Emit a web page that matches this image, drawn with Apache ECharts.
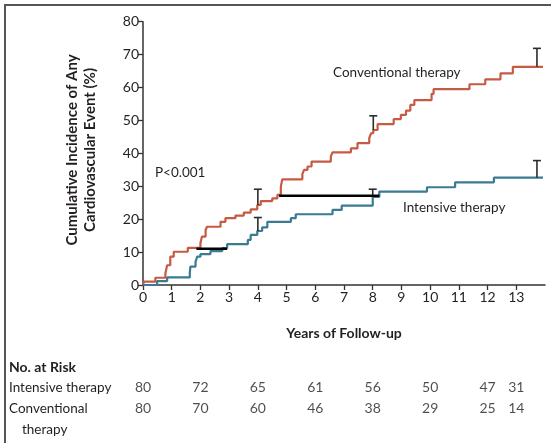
<!DOCTYPE html>
<html><head><meta charset="utf-8">
<script src="https://cdn.jsdelivr.net/npm/echarts@6/dist/echarts.min.js"></script>
<style>html,body{margin:0;padding:0;background:#fff}#c{width:551px;height:443px}</style>
</head><body><div id="c"></div>
<script>
const conventional = [[0,0],[0.03,1.0],[0.43,2.2],[0.78,3.5],[0.84,6],[0.95,8.6],[1.07,10.1],[1.56,11.3],[2.0,12.7],[2.05,14.7],[2.18,16.7],[2.23,17.7],[2.7,19.2],[2.87,20.3],[3.22,21.1],[3.51,22],[3.75,23],[3.98,24.3],[4.1,25.5],[4.5,26.3],[4.68,27.4],[4.8,29.9],[4.85,32.1],[5.55,33.7],[5.61,35],[5.73,36],[5.87,37.5],[6.54,39],[6.6,40.3],[7.24,41.5],[7.47,43.1],[7.88,44.6],[7.94,46.1],[8.02,47.1],[8.17,48.9],[8.73,50.4],[8.98,51.7],[9.16,53],[9.31,54.7],[9.45,56.2],[10.05,58.1],[10.12,59.5],[11.37,61],[11.92,62.5],[12.45,64.3],[12.88,66.3],[13.93,66.3]];
const intensive = [[0,0],[0.49,1.2],[0.84,2.3],[1.63,3.7],[1.65,5.6],[1.83,7.1],[1.89,8.6],[2.0,9.4],[2.35,10.3],[2.76,11.2],[2.93,12.4],[3.65,13.7],[3.75,15.2],[3.98,16.4],[4.15,17.5],[4.33,19.2],[5.15,20.3],[5.32,21.5],[6.6,22.8],[6.92,24.1],[8.0,26.8],[8.23,28.4],[9.89,29.7],[10.87,31.2],[12.22,32.6],[13.93,32.6]];
// error bars: [year, low, high]
const convErr = [[4.0,24.3,29.1],[8.02,47.1,51.4],[13.72,66.3,71.9]];
const intErr = [[4.0,16.4,20.5],[8.0,26.8,29.1],[13.72,32.6,37.8]];
// black reference segments
const segA = [[1.86,11.0],[2.93,11.0]];
const segB = [[4.74,27.1],[8.23,27.1]];
const xTicks = [0,1,2,3,4,5,6,7,8,9,10,11,12,13];
const riskYears = [0,2,4,6,8,10,12,13];
const riskIntensive = [80,72,65,61,56,50,47,31];
const riskConventional = [80,70,60,46,38,29,25,14];
const riskGroups = ['Intensive therapy','Conventional therapy'];

const FONT = 'Lato';
const TXT = '#231f20';
const chart = echarts.init(document.getElementById('c'), null, {renderer:'canvas'});

function errItem(params, api){
  const p0 = api.coord([api.value(0), api.value(1)]);
  const p1 = api.coord([api.value(0), api.value(2)]);
  const st = {stroke:'#2b2b2b', lineWidth:1.6};
  return {type:'group', children:[
    {type:'line', shape:{x1:p0[0],y1:p0[1],x2:p1[0],y2:p1[1]}, style:st},
    {type:'line', shape:{x1:p1[0]-4,y1:p1[1],x2:p1[0]+4,y2:p1[1]}, style:st}
  ]};
}

const riskData = [];
riskYears.forEach((y,i)=>{ riskData.push([y,0,riskIntensive[i]]); riskData.push([y,1,riskConventional[i]]); });

chart.setOption({
  animation:false,
  textStyle:{fontFamily:FONT},
  grid:[
    {left:143, right:6, top:21.7, height:263.3},
    {left:143, right:6, top:377, height:42}
  ],
  xAxis:[
    {type:'value', gridIndex:0, min:0, max:14, interval:1,
     axisLine:{lineStyle:{color:'#333', width:1.5}},
     axisTick:{show:true, length:5, customValues:xTicks, lineStyle:{color:'#333', width:1.3}},
     axisLabel:{customValues:xTicks, color:TXT, fontSize:14, fontFamily:FONT, margin:5},
     splitLine:{show:false},
     name:'Years of Follow-up', nameLocation:'middle', nameGap:41,
     nameTextStyle:{color:TXT, fontSize:14, fontWeight:'bold', fontFamily:FONT}},
    {type:'value', gridIndex:1, min:0, max:14, show:false}
  ],
  yAxis:[
    {type:'value', gridIndex:0, min:0, max:80, interval:10,
     axisLine:{show:true, lineStyle:{color:'#333', width:1.5}},
     axisTick:{show:true, length:5, lineStyle:{color:'#333', width:1.3}},
     axisLabel:{color:TXT, fontSize:14, fontFamily:FONT, margin:4},
     splitLine:{show:false}},
    {type:'category', gridIndex:1, data:riskGroups, inverse:true, show:false}
  ],
  series:[
    {type:'line', name:'Conventional therapy', data:conventional, step:'end', symbol:'none',
     lineStyle:{color:'#c65a43', width:2.2}, z:3},
    {type:'line', name:'Intensive therapy', data:intensive, step:'end', symbol:'none',
     lineStyle:{color:'#3a7a92', width:2.2}, z:3},
    {type:'custom', data:convErr, renderItem:errItem, z:4},
    {type:'custom', data:intErr, renderItem:errItem, z:4},
    {type:'line', data:segA, symbol:'none', lineStyle:{color:'#000', width:2.6}, z:5},
    {type:'line', data:segB, symbol:'none', lineStyle:{color:'#000', width:2.6}, z:5},
    {type:'scatter', xAxisIndex:1, yAxisIndex:1, data:riskData, symbolSize:0,
     label:{show:true, position:'inside', formatter:p=>String(p.value[2]), color:TXT, fontSize:14, fontFamily:FONT}}
  ],
  graphic:[
    {type:'rect', shape:{x:5, y:5, width:580, height:470}, style:{fill:'none', stroke:'#555', lineWidth:2}, silent:true},
    {type:'text', x:81, y:150, rotation:Math.PI/2, style:{text:'Cumulative Incidence of Any\nCardiovascular Event (%)', fill:TXT, font:'bold 15px Lato', align:'center', verticalAlign:'middle', lineHeight:18}},
    {type:'text', x:333, y:73, style:{text:'Conventional therapy', fill:TXT, font:'13.5px Lato', align:'left', verticalAlign:'middle'}},
    {type:'text', x:403, y:208, style:{text:'Intensive therapy', fill:TXT, font:'13.5px Lato', align:'left', verticalAlign:'middle'}},
    {type:'text', x:155, y:173, style:{text:'P<0.001', fill:TXT, font:'13.5px Lato', align:'left', verticalAlign:'middle'}},
    {type:'text', x:9, y:367, style:{text:'No. at Risk', fill:TXT, font:'bold 14px Lato', align:'left', verticalAlign:'middle'}},
    {type:'text', x:9, y:388, style:{text:'Intensive therapy', fill:TXT, font:'13.5px Lato', align:'left', verticalAlign:'middle'}},
    {type:'text', x:9, y:409, style:{text:'Conventional', fill:TXT, font:'13.5px Lato', align:'left', verticalAlign:'middle'}},
    {type:'text', x:22, y:430, style:{text:'therapy', fill:TXT, font:'13.5px Lato', align:'left', verticalAlign:'middle'}}
  ]
});
</script></body></html>
